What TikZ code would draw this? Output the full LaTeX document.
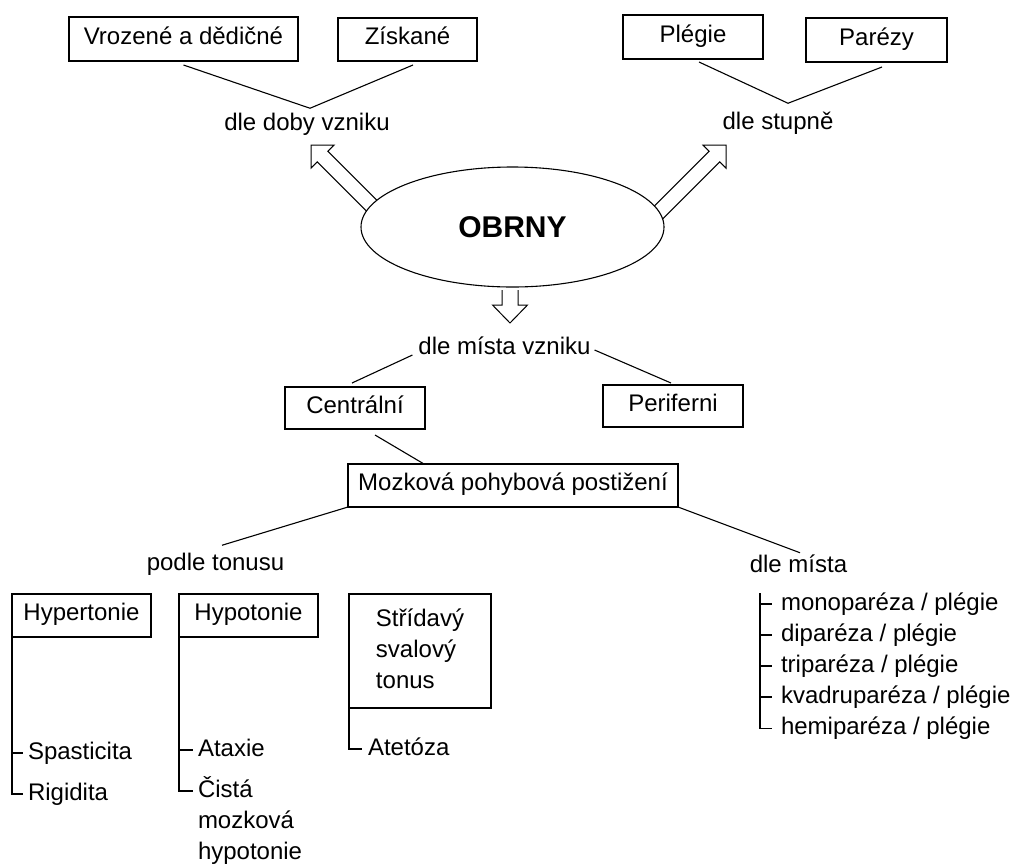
\documentclass[tikz,border=0pt]{standalone}
\usepackage{fontspec}
\setmainfont{Liberation Sans}
\usetikzlibrary{shapes.geometric}
\begin{document}
\begin{tikzpicture}[x=1pt,y=-1pt,
  every node/.style={font=\fontsize{24}{31}\selectfont},
  box/.style={draw, line width=1.1pt, inner sep=0pt, outer sep=0pt, text height=17pt, text depth=7pt},
  tallbox/.style={draw, line width=1.1pt, inner sep=0pt, outer sep=0pt},
  lbl/.style={inner sep=0pt, outer sep=0pt, text height=18pt, text depth=5.5pt},
  multi/.style={inner sep=0pt, outer sep=0pt},
  ln/.style={line width=1.1pt},
  hollow/.style={line width=1pt, line join=miter, line cap=butt}]
\fill[white] (0,0) rectangle (1019,865);
\useasboundingbox (0,0) rectangle (1019,865);

% top boxes and labels
\node[box, minimum width=229pt, minimum height=44pt] (vro) at (183.5,39) {Vrozené a dědičné};
\node[box, minimum width=139pt, minimum height=43pt] (zis) at (407.5,39.5) {Získané};
\node[box, minimum width=140pt, minimum height=44pt] (ple) at (693,37) {Plégie};
\node[box, minimum width=141pt, minimum height=44pt] (par) at (876.5,40) {Parézy};
\node[lbl] (dd) at (307,124) {dle doby vzniku};
\node[lbl] (ds) at (778,123) {dle stupně};

\draw[ln] ([yshift=-4pt]vro.south) -- ([xshift=3pt,yshift=4pt]dd.north) -- ([xshift=5.5pt,yshift=-4pt]zis.south);
\draw[ln] ([xshift=6pt,yshift=-3pt]ple.south) -- ([xshift=10pt,yshift=8pt]ds.north) -- ([xshift=5.5pt,yshift=-5pt]par.south);

% hollow arrows
\coordinate (tL) at (311,145);
\coordinate (tR) at (726,145);
\coordinate (tD) at (510,323);
\begin{scope}[shift={(tL)}, rotate=135]
  \draw[hollow] (-105,7.5) -- (-16.3,7.5) -- (-16.3,16.3) -- (0,0) -- (-16.3,-16.3) -- (-16.3,-7.5) -- (-105,-7.5);
\end{scope}
\begin{scope}[shift={(tR)}, rotate=45]
  \draw[hollow] (-105,7.5) -- (-16.3,7.5) -- (-16.3,16.3) -- (0,0) -- (-16.3,-16.3) -- (-16.3,-7.5) -- (-105,-7.5);
\end{scope}
\begin{scope}[shift={(tD)}, rotate=-90]
  \draw[hollow] (-33,8) -- (-18,8) -- (-18,17.5) -- (0,0) -- (-18,-17.5) -- (-18,-8) -- (-33,-8);
\end{scope}

% central ellipse
\node[ellipse, draw, fill=white, line width=1.1pt, inner sep=0pt, minimum width=303pt, minimum height=120pt,
      font=\fontsize{30}{36}\selectfont\bfseries] (ob) at (512.5,227) {OBRNY};

% dle mista vzniku
\node[lbl] (dmv) at (504.5,348) {dle místa vzniku};
\node[box, minimum width=140pt, minimum height=42pt] (cen) at (355,408) {Centrální};
\node[box, minimum width=140pt, minimum height=42pt] (per) at (673,406) {Periferni};
\draw[ln] ([xshift=-6pt,yshift=-7pt]dmv.west) -- ([xshift=-3pt,yshift=4pt]cen.north);
\draw[ln] ([xshift=4pt,yshift=-2pt]dmv.east) -- ([xshift=-2pt,yshift=2pt]per.north);

\node[box, minimum width=330pt, minimum height=43pt] (moz) at (513,485.5) {Mozková pohybová postižení};
\draw[ln] ([xshift=20pt,yshift=-6pt]cen.south) -- ([xshift=-89pt]moz.north);

\node[lbl] (pt) at (215.5,564) {podle tonusu};
\node[lbl] (dlm) at (798.5,566.5) {dle místa};
\draw[ln] (moz.south west) -- ([xshift=6.5pt,yshift=7pt]pt.north);
\draw[ln] (moz.south east) -- ([xshift=1.5pt,yshift=2pt]dlm.north);

% tonus boxes
\node[box, minimum width=139pt, minimum height=43pt] (hyper) at (81.5,615.5) {Hypertonie};
\node[box, minimum width=139pt, minimum height=43pt] (hypo) at (248.5,615.5) {Hypotonie};
\node[tallbox, minimum width=142pt, minimum height=114pt] (str) at (420,651)
  {\begin{tabular}{@{}l@{}}Střídavý\\svalový\\tonus\end{tabular}};

% tonus subitems
\node[lbl, anchor=west] (spa) at (28,753) {Spasticita};
\node[lbl, anchor=west] (rig) at (28,794) {Rigidita};
\node[lbl, anchor=west] (ata) at (198,750) {Ataxie};
\node[multi, anchor=north west] (cis) at (198,775.5)
  {\begin{tabular}{@{}l@{}}Čistá\\mozková\\hypotonie\end{tabular}};
\node[lbl, anchor=west] (ate) at (368,749) {Atetóza};

\draw[ln] (hyper.south west) |- ([xshift=-5pt]rig.west);
\draw[ln] (hyper.south west |- spa.west) -- ([xshift=-5pt]spa.west);
\draw[ln] (hypo.south west) |- ([xshift=-5pt,yshift=-15.5pt]cis.north west);
\draw[ln] (hypo.south west |- ata.west) -- ([xshift=-5pt]ata.west);
\draw[ln] (str.south west) |- ([xshift=-6pt]ate.west);

% dle mista list
\node[lbl, anchor=west] (i1) at (781,604) {monoparéza / plégie};
\node[lbl, anchor=west] (i2) at (781,635) {diparéza / plégie};
\node[lbl, anchor=west] (i3) at (781,666) {triparéza / plégie};
\node[lbl, anchor=west] (i4) at (781,697) {kvadruparéza / plégie};
\node[lbl, anchor=west] (i5) at (781,728.5) {hemiparéza / plégie};
\coordinate (lv) at (760,593);
\draw[ln] (lv) |- ([xshift=-9pt]i5.west);
\foreach \i in {i1,i2,i3,i4}{
  \draw[ln] (lv |- \i.west) -- ([xshift=-9pt]\i.west);
}
\end{tikzpicture}
\end{document}
